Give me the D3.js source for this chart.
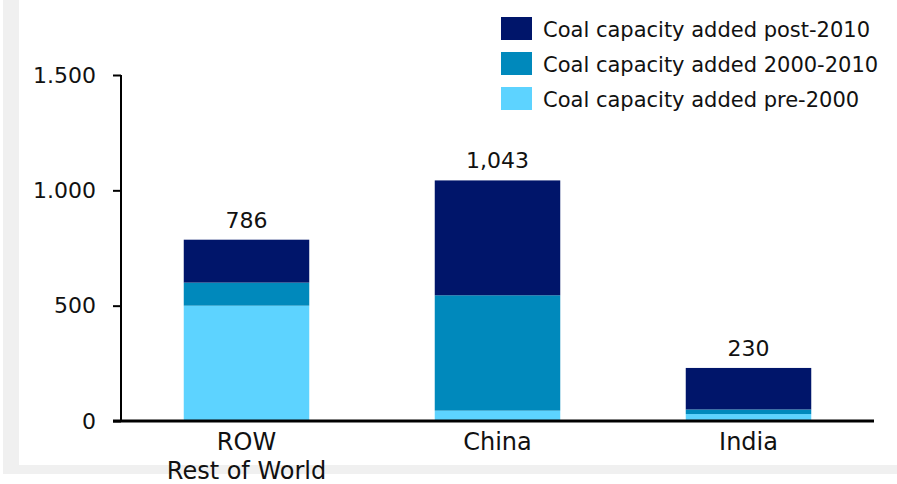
<!DOCTYPE html>
<html><head><meta charset="utf-8">
<script src="https://cdn.jsdelivr.net/npm/d3@7"></script>
<style>html,body{margin:0;padding:0;background:#fff;}svg{display:block;}</style>
</head><body>
<script>
const categories = ["ROW", "China", "India"];
const categorySublabels = ["Rest of World", "", ""];
const seriesNames = ["Coal capacity added pre-2000", "Coal capacity added 2000-2010", "Coal capacity added post-2010"];
const pre2000 = [500, 45, 30];
const mid2000to2010 = [100, 500, 20];
const post2010 = [186, 498, 180];
const totalLabels = ["786", "1,043", "230"];
const yTicks = [0, 500, 1000, 1500];
const yTickLabels = ["0", "500", "1.000", "1.500"];
const colors = ["#5dd3ff", "#0089bc", "#00156a"];

const W = 897, H = 484;
const font = "'DejaVu Sans', sans-serif";
const svg = d3.select("body").append("svg").attr("width", W).attr("height", H);

// frame
svg.append("rect").attr("x", 3).attr("y", 0).attr("width", 16).attr("height", 474).attr("fill", "#f0f0f0");
svg.append("rect").attr("x", 3).attr("y", 465).attr("width", W - 3).attr("height", 9).attr("fill", "#f0f0f0");

const x = d3.scaleBand().domain(categories).range([121, 874]).paddingInner(0.5).paddingOuter(0.25);
const y = d3.scaleLinear().domain([0, 1500]).range([421, 75]);

const rows = categories.map((c, i) => ({cat: c, pre: pre2000[i], mid: mid2000to2010[i], post: post2010[i]}));
const stack = d3.stack().keys(["pre", "mid", "post"])(rows);

svg.append("g").selectAll("g").data(stack).join("g")
  .attr("fill", (d, i) => colors[i])
  .selectAll("rect").data(d => d).join("rect")
  .attr("x", d => x(d.data.cat))
  .attr("width", x.bandwidth())
  .attr("y", d => y(d[1]))
  .attr("height", d => y(d[0]) - y(d[1]));

// y axis
const yAxis = d3.axisLeft(y).tickValues(yTicks).tickSize(8).tickFormat((d, i) => yTickLabels[i]);
const ga = svg.append("g").attr("transform", "translate(121,0)").call(yAxis);
ga.select(".domain").attr("d", `M0,${y(1500)}V${y(0)}`).attr("stroke", "#000").attr("stroke-width", 2);
ga.selectAll(".tick line").attr("stroke", "#000").attr("stroke-width", 2);
ga.selectAll(".tick text").attr("x", -25).attr("font-family", font).attr("font-size", 22).attr("fill", "#111");

// x axis
const xAxis = d3.axisBottom(x).tickSize(0).tickFormat(d => d);
const gx = svg.append("g").attr("transform", `translate(0,${y(0)})`).call(xAxis);
gx.select(".domain").attr("d", `M113,0H874`).attr("stroke", "#000").attr("stroke-width", 3);
gx.selectAll(".tick text").attr("y", 29).attr("dy", 0).attr("font-family", font).attr("font-size", 24).attr("fill", "#111");
gx.selectAll(".tick").append("text")
  .text((d, i) => categorySublabels[i])
  .attr("y", 58).attr("text-anchor", "middle").attr("fill", "#111")
  .attr("font-family", font).attr("font-size", 24);

// totals
svg.append("g").selectAll("text").data(rows).join("text")
  .attr("x", d => x(d.cat) + x.bandwidth() / 2)
  .attr("y", d => y(d.pre + d.mid + d.post) - 12)
  .attr("text-anchor", "middle")
  .attr("font-family", font).attr("font-size", 22).attr("fill", "#111")
  .text((d, i) => totalLabels[i]);

// legend
const legendOrder = [2, 1, 0];
const lg = svg.append("g").selectAll("g").data(legendOrder).join("g")
  .attr("transform", (d, i) => `translate(501,${17 + i * 35})`);
lg.append("rect").attr("width", 31).attr("height", 23).attr("fill", d => colors[d]);
lg.append("text").attr("x", 42).attr("y", 20)
  .attr("font-family", font).attr("font-size", 21).attr("fill", "#111")
  .text(d => seriesNames[d]);
</script>
</body></html>
